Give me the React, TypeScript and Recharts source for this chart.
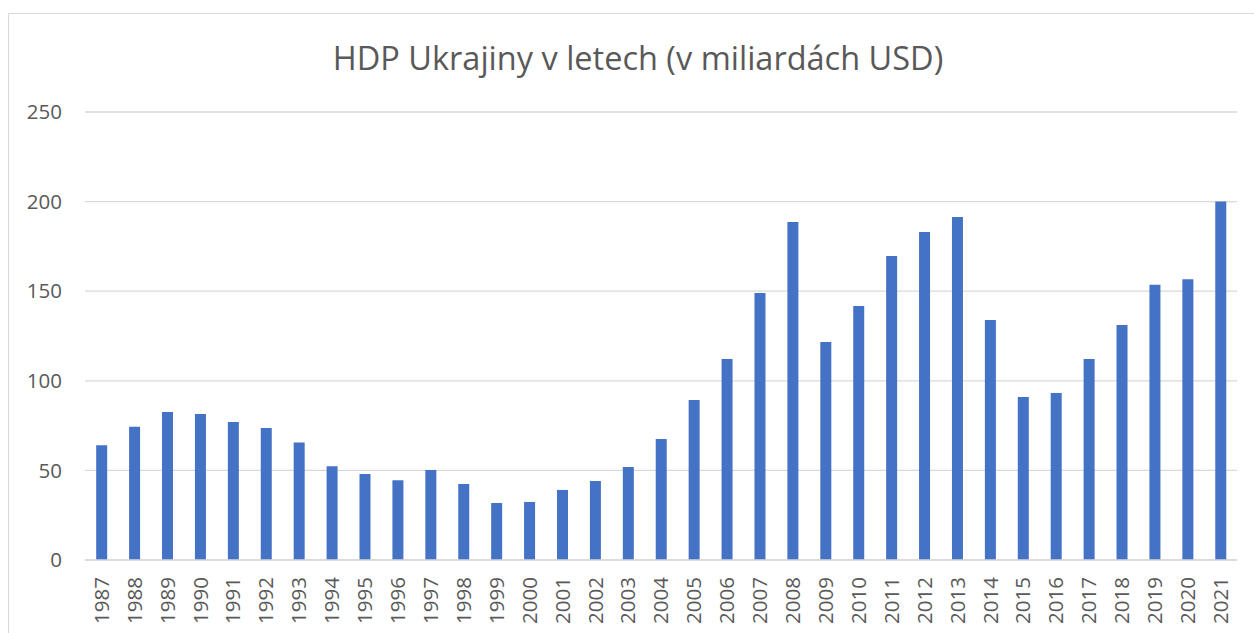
import React from 'react';
import { BarChart, Bar, XAxis, YAxis, CartesianGrid } from 'recharts';

// HDP Ukrajiny (mld. USD)
const years = [
    '1987', '1988', '1989', '1990', '1991', '1992', '1993', '1994', '1995', '1996',
    '1997', '1998', '1999', '2000', '2001', '2002', '2003', '2004', '2005', '2006',
    '2007', '2008', '2009', '2010', '2011', '2012', '2013', '2014', '2015', '2016',
    '2017', '2018', '2019', '2020', '2021',
];
const gdp = [
    64.0, 74.4, 82.6, 81.5, 77.0, 73.7, 65.5, 52.3, 48.0, 44.5,
    50.2, 42.4, 31.8, 32.4, 39.1, 44.1, 51.9, 67.5, 89.3, 112.2,
    149.0, 188.6, 121.7, 141.7, 169.6, 183.0, 191.4, 133.9, 91.0, 93.2,
    112.2, 131.1, 153.6, 156.6, 200.0,
];
const yTicks = [0, 50, 100, 150, 200, 250];

const data = years.map((year, i) => ({ year, gdp: gdp[i] }));

const FONT = '"Open Sans", "Liberation Sans", sans-serif';
const TEXT = '#595959';
const GRID = '#d9d9d9';

const YearTick = (props: any) => {
    const { x, y, payload } = props;
    return (
        <text
            x={x}
            y={y}
            transform={`rotate(-90 ${x} ${y})`}
            textAnchor="end"
            dy="0.36em"
            fill={TEXT}
            fontSize={20.5}
            fontFamily={FONT}
        >
            {payload.value}
        </text>
    );
};

export default function App() {
    return (
        <div style={{ position: 'relative', width: 1254, height: 633, overflow: 'hidden', background: '#fff' }}>
            <style>{'body{margin:0;overflow:hidden}'}</style>
            <div
                style={{
                    position: 'absolute', left: 8, top: 13, width: 1270, height: 650,
                    border: `1px solid ${GRID}`, boxSizing: 'border-box',
                }}
            />
            <div
                style={{
                    position: 'absolute', left: 0, width: 1276, top: 36, textAlign: 'center',
                    fontFamily: FONT, fontSize: 32.5, color: TEXT, lineHeight: '44px',
                }}
            >
                HDP Ukrajiny v letech (v miliardách USD)
            </div>
            <div style={{ position: 'absolute', left: 0, top: 0 }}>
                <BarChart
                    width={1254}
                    height={633}
                    data={data}
                    margin={{ top: 112, right: 17, bottom: 0, left: 8 }}
                    barCategoryGap="34%"
                >
                    <CartesianGrid vertical={false} stroke={GRID} strokeWidth={1.3} />
                    <XAxis
                        dataKey="year"
                        interval={0}
                        height={73}
                        tickLine={false}
                        axisLine={{ stroke: GRID, strokeWidth: 1.3 }}
                        tick={<YearTick />}
                        tickMargin={11}
                    />
                    <YAxis
                        domain={[0, 250]}
                        ticks={yTicks}
                        width={77}
                        axisLine={false}
                        tickLine={false}
                        tickMargin={17}
                        tick={{ fill: TEXT, fontSize: 20.5, fontFamily: FONT }}
                    />
                    <Bar dataKey="gdp" fill="#4472C4" isAnimationActive={false} />
                </BarChart>
            </div>
        </div>
    );
}
